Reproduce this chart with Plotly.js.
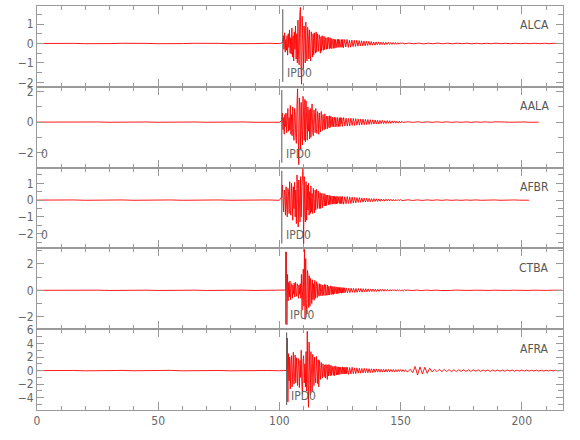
<!DOCTYPE html>
<html>
<head>
<meta charset="utf-8">
<script src="https://cdn.plot.ly/plotly-3.0.1.min.js"></script>
<style>html,body{margin:0;padding:0;background:#fff;}#chart{width:580px;height:440px;}</style>
</head>
<body>
<div id="chart"></div>
<script>
// ---- data ----
var stations = ["ALCA", "AALA", "AFBR", "CTBA", "AFRA"];
var pickLabels = ["IPD0", "IPD0", "IPD0", "IPU0", "IPD0"];
var pickTimes = [101.4, 101.0, 101.0, 102.6, 103.0];
var originShown = [false, true, true, false, false];
var traceEnd = [217, 207, 203.5, 217, 217];
var yRanges = [[-2.23, 1.93], [-3.0, 2.33], [-2.88, 1.94], [-2.94, 3.17], [-5.8, 6.1]];
var yDtick = [1, 2, 1, 2, 2];
var yMinor = [0.5, 1, 0.5, 1, 1];

// pre-event noise, sampled every 5 s from 0 to 100
var preALCA = [0,0.01,-0.01,0.005,-0.01,0.01,-0.005,0.01,-0.01,0.005,-0.01,0.01,-0.005,0.01,-0.01,0.005,-0.01,0.01,-0.005,0.01,-0.005];
var preAALA = [0,0.01,-0.01,0.01,-0.01,0.01,-0.01,0.01,-0.01,0.01,-0.01,0.01,-0.01,0.01,-0.01,0.01,-0.01,0.01,-0.01,0.01,-0.01];
var preAFBR = [0,0.01,-0.01,0.01,-0.01,0.01,-0.01,0.01,-0.01,0.01,-0.01,0.01,-0.01,0.01,-0.01,0.01,-0.01,0.01,-0.01,0.01,-0.01];
var preCTBA = [0,0.01,-0.01,0.01,-0.01,0.01,-0.01,0.01,-0.01,0.01,-0.01,0.01,-0.01,0.01,-0.01,0.01,-0.01,0.01,-0.01,0.01,-0.01];
var preAFRA = [0,0.02,-0.02,0.02,-0.03,0.02,-0.02,0.03,-0.02,0.02,-0.03,0.04,-0.03,0.02,-0.02,0.02,-0.03,0.02,-0.02,0.02,-0.02];

// main phase, sampled every 0.25 s from the pick time (25 s)
var mainALCA = [0.05,0.4,-0.3,0.55,-0.45,0.2,-0.35,0.4, -0.6,0.5,-0.2,0.7,-0.5,0.3,-0.55,0.8,
  -0.7,0.4,-0.9,0.6,-0.3,0.9,-0.8,0.5, -1.0,1.2,-0.6,-1.1,1.4,1.86,-1.2,-2.1,
  1.4,-0.8,-1.3,0.9,0.5,-1.0,1.1,-0.6, -0.9,0.83,0.4,-0.8,0.7,-0.5,-0.9,0.6,
  0.3,-0.7,0.5,-0.6,0.55,-0.3,-0.5,0.6, -0.45,0.5,-0.2,-0.4,0.45,0.2,-0.5,0.35,
  -0.4,0.4,-0.15,-0.35,0.38,-0.32,0.3,0.1, -0.3,0.3,-0.28,0.32,-0.1,-0.27,0.3,-0.25,
  0.25,-0.27,0.1,0.24,-0.25,0.22,-0.24,0.2, -0.22,0.08,0.22,-0.2,0.21,-0.2,0.2,-0.08,
  -0.2,0.2,-0.19,0.21];
var mainAALA = [0.1,0.6,-0.5,0.3,-0.8,0.5,-0.3,0.6, -0.7,0.4,0.9,-0.6,0.3,-0.5,1.1,-0.8,
  0.5,-0.9,1.0,-0.4,-1.2,0.9,0.6,-1.0, -1.4,1.2,2.2,-1.0,-2.8,1.6,0.8,-1.8,
  1.3,-0.7,-1.5,1.7,0.6,-1.2,1.5,-1.3, 1.4,-0.5,-1.2,1.0,-0.6,0.8,-1.1,0.9,
  -1.0,0.6,1.2,-0.7,-0.9,0.8,0.4,-0.7, 0.9,-0.5,-0.75,0.7,0.3,-0.8,0.6,-0.3,
  -0.65,0.7,0.2,-0.55,0.5,-0.4,-0.5,0.55, -0.45,0.2,0.4,-0.45,0.4,-0.1,-0.38,0.42,
  -0.35,0.38,0.15,-0.3,0.33,-0.3,0.1,0.32, -0.32,0.3,-0.1,-0.3,0.3,0.1,-0.3,0.29,
  -0.28,0.3,-0.1,0.28];
var mainAFBR = [0.2,0.9,-0.5,-0.7,0.6,0.3,-0.9,0.8, -0.4,-1.0,0.7,0.5,-0.8,1.1,-0.6,-0.9,
  1.0,0.4,-1.2,0.8,-0.5,1.06,-1.0,0.6, -1.4,1.5,0.7,-1.6,1.2,-0.8,-1.3,1.4,
  -1.0,0.8,1.3,1.9,-2.6,1.4,-0.9,-1.3, 1.1,-1.2,0.9,-0.6,1.0,-0.9,0.5,-0.8,
  0.85,-0.7,0.4,-0.8,0.7,-0.3,-0.75,0.6, -0.6,0.65,-0.3,-0.5,0.55,0.2,-0.5,0.45,
  -0.5,0.4,-0.2,-0.45,0.4,0.1,-0.35,0.38, -0.35,0.3,-0.32,0.3,-0.1,-0.28,0.3,-0.25,
  0.26,-0.25,0.1,0.25,-0.24,0.24,-0.22,0.22, -0.24,0.2,-0.22,0.23,-0.2,0.21,-0.08,-0.2,
  0.22,-0.21,0.2,-0.22];
var mainCTBA = [0.02,2.9,-2.6,1.2,-0.8,0.6,-0.5,0.7, -0.7,0.3,0.5,-0.6,0.4,-0.3,0.55,-0.5,
  0.6,-0.2,-0.45,0.5,0.3,-0.6,0.4,-0.3, 0.5,-0.6,1.2,-1.5,0.8,1.6,-1.2,3.1,
  -2.2,2.4,-1.0,-1.8,1.5,1.0,-1.3,1.1, -1.2,0.9,0.4,-1.0,0.8,-0.7,0.5,-0.75,
  0.75,-0.6,0.3,0.65,-0.55,0.5,-0.2,-0.45, 0.5,-0.4,0.45,-0.2,-0.42,0.4,-0.38,0.25,
  0.45,-0.4,0.42,-0.2,-0.38,0.4,-0.36,0.3, -0.35,0.15,0.34,-0.32,0.3,-0.3,0.28,-0.3,
  0.28,-0.26,0.1,0.27,-0.25,0.24,-0.25,0.22, -0.23,0.22,-0.2,0.21,-0.22,0.2,-0.19,0.2,
  -0.18,0.19,-0.18,0.17];
var mainAFRA = [0.02,4.8,-4.6,2.5,-1.5,2.0,-2.7,1.2, 2.2,-2.4,1.0,2.7,-2.0,-1.0,2.3,-1.8,
  1.9,-0.8,-2.2,1.8,0.6,-2.5,1.5,-1.0, 3.0,-2.0,-3.5,1.5,2.2,-1.8,1.0,-2.4,
  2.8,-3.0,5.8,-2.0,-5.4,4.2,-1.5,-3.6, 2.8,-1.2,-3.0,2.4,1.0,-2.2,2.0,-0.8,
  -1.8,2.1,0.5,-1.9,1.6,-2.4,1.5,-0.6, -1.3,1.2,0.4,-1.1,1.0,-0.5,-0.9,0.85,
  -1.1,0.9,0.3,-1.3,0.85,-0.8,0.9,-0.4, -0.75,0.8,-0.7,0.65,0.2,-0.7,0.6,-0.75,
  0.7,-0.3,-0.65,0.6,-0.6,0.55,-0.6,0.5, -0.55,0.5,0.2,-0.5,0.55,-0.5,0.45,-0.5,
  0.5,-0.45,0.5,-0.45];

// later phase, sampled every 0.5 s (25 s)
var midALCA = [-0.22,0.2,-0.18,0.21,-0.2,0.17,-0.19,0.18,-0.16,0.17,
  -0.15,0.16,-0.14,0.15,-0.13,0.14,-0.12,0.13,-0.12,0.11,
  -0.1,0.11,-0.09,0.1,-0.09,0.08,-0.09,0.08,-0.07,0.08,
  -0.07,0.07,-0.06,0.07,-0.06,0.06,-0.05,0.06,-0.05,0.05,
  -0.05,0.05,-0.04,0.05,-0.04,0.04,-0.04,0.04,-0.03,0.04];
var midAALA = [-0.28,0.3,-0.25,0.27,-0.26,0.24,-0.25,0.26,-0.22,0.24,
  -0.22,0.23,-0.2,0.21,-0.2,0.19,-0.18,0.2,-0.17,0.18,
  -0.16,0.17,-0.15,0.16,-0.14,0.15,-0.13,0.14,-0.12,0.13,
  -0.12,0.11,-0.1,0.11,-0.1,0.09,-0.09,0.1,-0.08,0.09,
  -0.08,0.08,-0.07,0.08,-0.07,0.06,-0.07,0.06,-0.06,0.06];
var midAFBR = [0.22,-0.24,0.2,-0.22,0.21,-0.2,0.19,-0.2,0.18,-0.17,
  0.16,-0.17,0.15,-0.14,0.15,-0.13,0.13,-0.12,0.12,-0.11,
  0.11,-0.1,0.1,-0.1,0.09,-0.09,0.09,-0.08,0.08,-0.08,
  0.07,-0.07,0.07,-0.06,0.06,-0.06,0.06,-0.05,0.05,-0.05,
  0.05,-0.05,0.04,-0.05,0.04,-0.04,0.04,-0.04,0.04,-0.03];
var midCTBA = [0.17,-0.18,0.16,-0.17,0.16,-0.15,0.15,-0.16,0.14,-0.15,
  0.14,-0.13,0.13,-0.14,0.12,-0.12,0.12,-0.11,0.11,-0.11,
  0.1,-0.1,0.1,-0.09,0.09,-0.09,0.08,-0.08,0.08,-0.07,
  0.07,-0.07,0.07,-0.06,0.06,-0.06,0.06,-0.05,0.05,-0.05,
  0.05,-0.05,0.05,-0.04,0.04,-0.04,0.04,-0.04,0.04,-0.03];
var midAFRA = [0.5,-0.55,0.45,-0.5,0.5,-0.45,0.4,-0.45,0.4,-0.38,
  0.35,-0.38,0.32,-0.35,0.33,-0.3,0.3,-0.32,0.28,-0.3,
  0.26,-0.28,0.25,-0.24,0.25,-0.22,0.22,-0.23,0.2,-0.22,
  0.2,-0.2,0.19,-0.2,0.18,-0.19,0.17,-0.18,0.16,-0.17,
  0.15,-0.16,0.15,-0.14,0.15,-0.14,0.13,-0.14,0.13,-0.12];

// coda
var codaDt = [2, 2, 2, 2, 1];
var codaALCA = [-0.02,0.02,-0.015,0.02,-0.02,0.015,-0.015,0.02,-0.015,0.015,-0.015,0.015,-0.01,0.015,-0.015,0.01,-0.015,0.01,-0.01,0.015,-0.01,0.01,-0.01,0.01,-0.01,0.01,-0.01,0.01,-0.01,0.01,-0.01,0.01,-0.005];
var codaAALA = [-0.025,0.025,-0.02,0.025,-0.02,0.02,-0.02,0.02,-0.015,0.02,-0.015,0.015,-0.015,0.015,-0.015,0.015,-0.01,0.015,-0.01,0.015,-0.01,0.01,-0.01,0.01,-0.01,0.01,-0.01,0.01,-0.005];
var codaAFBR = [-0.02,0.02,-0.02,0.015,-0.02,0.015,-0.015,0.015,-0.015,0.015,-0.015,0.01,-0.015,0.01,-0.01,0.015,-0.01,0.01,-0.01,0.01,-0.01,0.01,-0.01,0.01,-0.005,0.01,-0.005];
var codaCTBA = [0.02,-0.015,0.02,-0.015,0.015,-0.015,0.015,-0.015,0.015,-0.01,0.015,-0.01,0.015,-0.01,0.01,-0.01,0.01,-0.01,0.01,-0.01,0.01,-0.01,0.01,-0.01,0.01,-0.01,0.01,-0.005,0.01,-0.005,0.01,-0.005,0.005];
var codaAFRA = [-0.15,0.2,-0.3,0.6,-0.65,0.55,-0.5,0.5,-0.4,0.35,
  -0.2,0.18,-0.16,0.2,-0.15,0.17,-0.14,0.15,-0.16,0.13, -0.14,0.12,-0.13,0.14,-0.12,0.11,-0.12,0.13,-0.1,0.11,
  -0.11,0.1,-0.09,0.1,-0.1,0.09,-0.08,0.09,-0.09,0.08, -0.08,0.09,-0.07,0.08,-0.08,0.07,-0.07,0.08,-0.06,0.07,
  -0.07,0.06,-0.06,0.07,-0.06,0.05,-0.06,0.05,-0.05,0.06, -0.05,0.05,-0.04,0.05,-0.04];

var preVals = [preALCA, preAALA, preAFBR, preCTBA, preAFRA];
var mainVals = [mainALCA, mainAALA, mainAFBR, mainCTBA, mainAFRA];
var midVals = [midALCA, midAALA, midAFBR, midCTBA, midAFRA];
var codaVals = [codaALCA, codaAALA, codaAFBR, codaCTBA, codaAFRA];
var preDt = 5;
var mainDt = 0.25;
var midDt = 0.5;

// ---- build ----
(function () {
  var FONT = "Liberation Sans Narrow, DejaVu Sans Condensed, Arial Narrow, sans-serif";
  var AX = "#9a9a9a";
  var TXT = "#666666";
  var traces = [], shapes = [], annotations = [];
  var layout = {
    width: 580, height: 440,
    margin: {l: 37, r: 17, t: 6, b: 30},
    paper_bgcolor: "#ffffff", plot_bgcolor: "#ffffff",
    showlegend: false,
    font: {family: FONT, size: 12, color: TXT}
  };
  var n = stations.length;
  for (var k = 0; k < n; k++) {
    var xs = [], ys = [];
    var i;
    for (i = 0; i < preVals[k].length; i++) { xs.push(i * preDt); ys.push(preVals[k][i]); }
    var t0 = pickTimes[k];
    for (i = 0; i < mainVals[k].length; i++) { xs.push(t0 + i * mainDt); ys.push(mainVals[k][i]); }
    var m0 = t0 + mainVals[k].length * mainDt;
    for (i = 0; i < midVals[k].length; i++) { xs.push(m0 + i * midDt); ys.push(midVals[k][i]); }
    var c0 = m0 + midVals[k].length * midDt;
    for (i = 0; i < codaVals[k].length; i++) {
      var tt = c0 + i * codaDt[k];
      if (tt > traceEnd[k]) break;
      xs.push(tt); ys.push(codaVals[k][i]);
    }
    var sx = k === 0 ? "" : String(k + 1);
    traces.push({
      type: "scatter", mode: "lines", x: xs, y: ys,
      xaxis: "x" + sx, yaxis: "y" + sx,
      line: {color: "#ff0000", width: 0.9}, hoverinfo: "skip"
    });
    var dTop = 1 - k / n, dBot = 1 - (k + 1) / n;
    layout["xaxis" + sx] = {
      domain: [0, 1], anchor: "y" + sx, range: [0, 217],
      showline: true, linecolor: AX, linewidth: 1, mirror: "allticks",
      ticks: "inside", ticklen: 8, tickcolor: AX, dtick: 50, tick0: 0,
      minor: {dtick: 10, ticks: "inside", ticklen: 4, tickcolor: AX},
      showgrid: false, zeroline: false,
      showticklabels: k === n - 1,
      tickfont: {family: FONT, size: 12, color: TXT}
    };
    layout["yaxis" + sx] = {
      domain: [dBot, dTop], anchor: "x" + sx, range: yRanges[k],
      showline: true, linecolor: AX, linewidth: 1, mirror: "allticks",
      ticks: "inside", ticklen: 7, tickcolor: AX, dtick: yDtick[k], tick0: 0,
      minor: {dtick: yMinor[k], ticks: "inside", ticklen: 5, tickcolor: AX},
      showgrid: false, zeroline: false,
      tickfont: {family: FONT, size: 12, color: TXT}
    };
    shapes.push({type: "line", xref: "x" + sx, yref: "y" + sx + " domain",
      x0: pickTimes[k], x1: pickTimes[k], y0: 0.06, y1: 0.96,
      line: {color: "#555555", width: 1}});
    annotations.push({xref: "x" + sx, yref: "y" + sx + " domain", x: pickTimes[k], y: 0.17,
      xanchor: "left", yanchor: "middle", xshift: 2, showarrow: false, text: pickLabels[k],
      font: {family: FONT, size: 12, color: "#666666"}});
    if (originShown[k]) {
      annotations.push({xref: "x" + sx, yref: "y" + sx + " domain", x: 0, y: 0.17,
        xanchor: "left", yanchor: "middle", xshift: 2, showarrow: false, text: "0",
        font: {family: FONT, size: 12, color: "#666666"}});
    }
    annotations.push({xref: "paper", yref: "y" + sx + " domain", x: 0.977, y: 0.76,
      xanchor: "right", yanchor: "middle", showarrow: false, text: stations[k],
      font: {family: FONT, size: 12, color: "#555555"}});
  }
  layout.shapes = shapes;
  layout.annotations = annotations;
  Plotly.newPlot("chart", traces, layout, {staticPlot: true, displayModeBar: false});
})();
</script>
</body>
</html>
